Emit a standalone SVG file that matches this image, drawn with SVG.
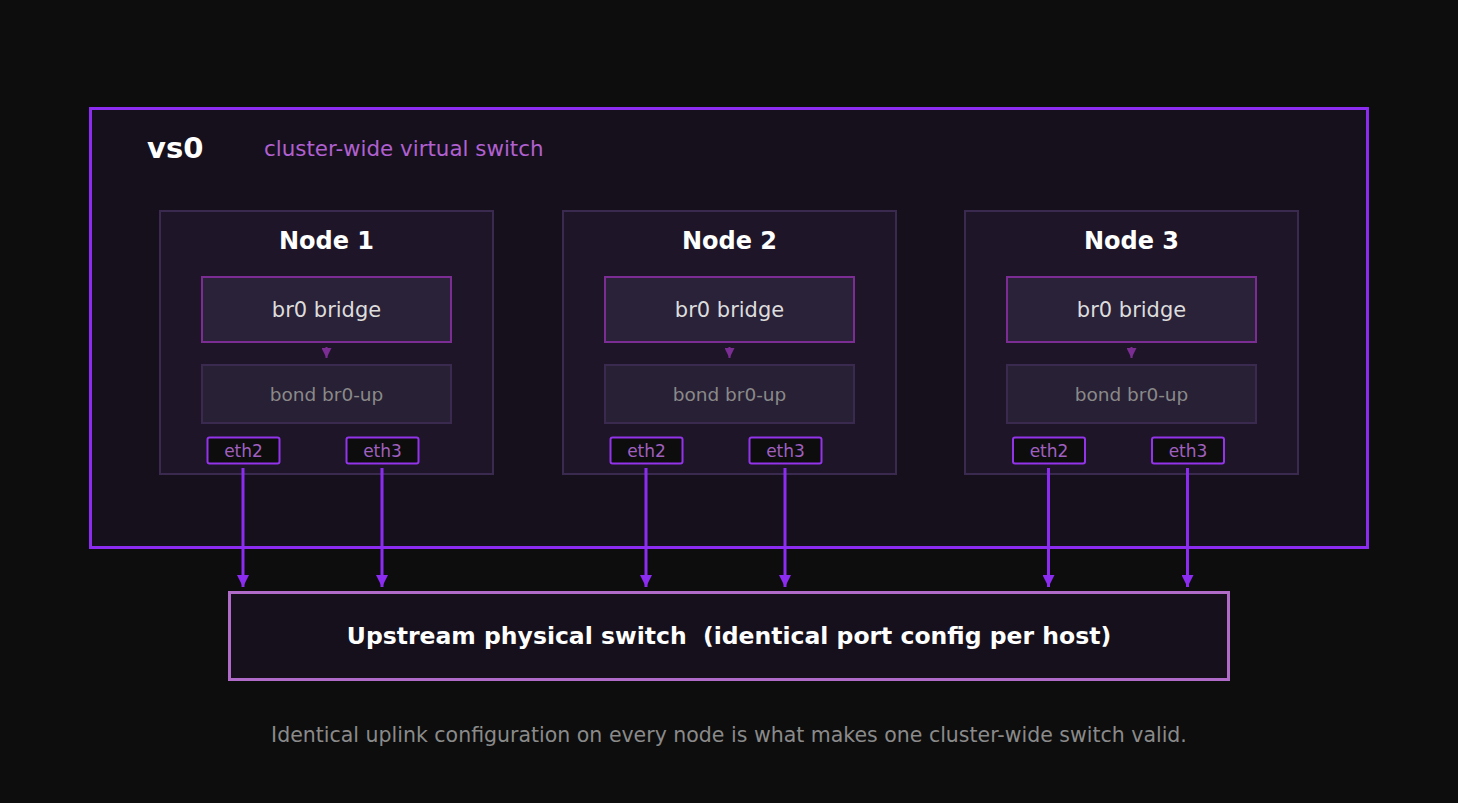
<svg xmlns="http://www.w3.org/2000/svg" width="1458" height="803" viewBox="0 0 1458 803">
<defs>
<marker id="ah" viewBox="0 0 10 10" refX="10" refY="5" markerWidth="4" markerHeight="4" markerUnits="strokeWidth" orient="auto"><path d="M0,0 L10,5 L0,10 Z" fill="#8b2cf0"/></marker>
<marker id="ahs" viewBox="0 0 10 10" refX="10" refY="5" markerWidth="5" markerHeight="5" markerUnits="strokeWidth" orient="auto"><path d="M0,0 L10,5 L0,10 Z" fill="#7b2d94"/></marker>
<style>
text{font-family:"DejaVu Sans","Noto Sans",sans-serif;text-anchor:middle}
.node{fill:#1e1628;stroke:#3a2a50;stroke-width:2}
.br{fill:#2a2238;stroke:#7b2d94;stroke-width:2}
.bond{fill:#282034;stroke:#3a2a50;stroke-width:2}
.eth{fill:#0d0d0d;stroke:#9333ea;stroke-width:2}
.title{font-size:24px;font-weight:bold;fill:#ffffff}
.brt{font-size:21px;fill:#dddddd}
.bondt{font-size:18.5px;fill:#8a8a8a}
.etht{font-size:17px;fill:#a060c0}
.link{stroke:#8b2cf0;stroke-width:3;fill:none;marker-end:url(#ah)}
.inner{stroke:#7b2d94;stroke-width:2;fill:none;marker-end:url(#ahs)}
</style>
</defs>
<rect width="1458" height="803" fill="#0d0d0d"/>
<g id="vs0">
<rect x="90.5" y="108.5" width="1277" height="439" fill="#16101c" stroke="#8b2cf0" stroke-width="3"/>
<text x="147" y="158" style="font-size:29px;font-weight:bold;fill:#fff;text-anchor:start">vs0</text>
<text x="264" y="155.5" style="font-size:21.4px;fill:#b060d0;text-anchor:start">cluster-wide virtual switch</text>
</g>
<g id="node1">
<rect class="node" x="160" y="211" width="333" height="263"/>
<text class="title" x="326.5" y="248.5">Node 1</text>
<rect class="br" x="202" y="277" width="249" height="65"/>
<text class="brt" x="326.5" y="316.5">br0 bridge</text>
<rect class="bond" x="202" y="365" width="249" height="58"/>
<text class="bondt" x="326.5" y="400.5">bond br0-up</text>
<rect class="eth" x="207.5" y="437.5" width="72" height="26" rx="2"/>
<text class="etht" x="243.5" y="456.5">eth2</text>
<rect class="eth" x="346.5" y="437.5" width="72" height="26" rx="2"/>
<text class="etht" x="382.5" y="456.5">eth3</text>
</g>
<g id="node2">
<rect class="node" x="563" y="211" width="333" height="263"/>
<text class="title" x="729.5" y="248.5">Node 2</text>
<rect class="br" x="605" y="277" width="249" height="65"/>
<text class="brt" x="729.5" y="316.5">br0 bridge</text>
<rect class="bond" x="605" y="365" width="249" height="58"/>
<text class="bondt" x="729.5" y="400.5">bond br0-up</text>
<rect class="eth" x="610.5" y="437.5" width="72" height="26" rx="2"/>
<text class="etht" x="646.5" y="456.5">eth2</text>
<rect class="eth" x="749.5" y="437.5" width="72" height="26" rx="2"/>
<text class="etht" x="785.5" y="456.5">eth3</text>
</g>
<g id="node3">
<rect class="node" x="965" y="211" width="333" height="263"/>
<text class="title" x="1131.5" y="248.5">Node 3</text>
<rect class="br" x="1007" y="277" width="249" height="65"/>
<text class="brt" x="1131.5" y="316.5">br0 bridge</text>
<rect class="bond" x="1007" y="365" width="249" height="58"/>
<text class="bondt" x="1131.5" y="400.5">bond br0-up</text>
<rect class="eth" x="1013" y="437.5" width="72" height="26" rx="2"/>
<text class="etht" x="1049" y="456.5">eth2</text>
<rect class="eth" x="1152" y="437.5" width="72" height="26" rx="2"/>
<text class="etht" x="1188" y="456.5">eth3</text>
</g>
<g id="upstream">
<rect x="229.5" y="592.5" width="999" height="87" fill="#16101c" stroke="#b06ac8" stroke-width="3"/>
<text x="729" y="644" xml:space="preserve" style="font-size:23.5px;font-weight:bold;fill:#fff;white-space:pre">Upstream physical switch  (identical port config per host)</text>
</g>
<g id="connectors">
<line class="inner" x1="326.5" y1="347" x2="326.5" y2="358"/>
<line class="inner" x1="729.5" y1="347" x2="729.5" y2="358"/>
<line class="inner" x1="1131.5" y1="347" x2="1131.5" y2="358"/>
<line class="link" x1="243" y1="468" x2="243" y2="587"/>
<line class="link" x1="382" y1="468" x2="382" y2="587"/>
<line class="link" x1="646" y1="468" x2="646" y2="587"/>
<line class="link" x1="785" y1="468" x2="785" y2="587"/>
<line class="link" x1="1048.5" y1="468" x2="1048.5" y2="587"/>
<line class="link" x1="1187.5" y1="468" x2="1187.5" y2="587"/>
</g>
<text x="729" y="742" style="font-size:20.5px;fill:#8a8a8a">Identical uplink configuration on every node is what makes one cluster-wide switch valid.</text>
</svg>
